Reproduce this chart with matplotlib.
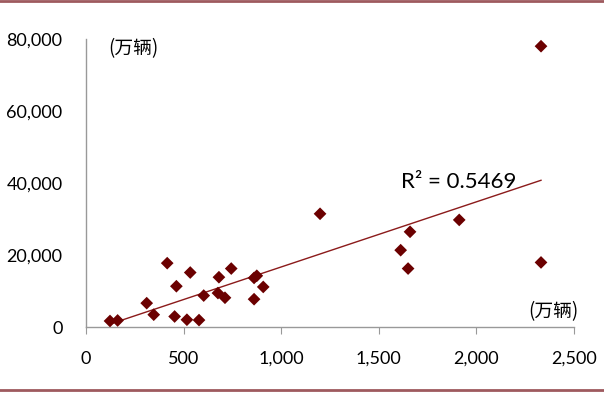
import numpy as np
import matplotlib
matplotlib.use("Agg")
import matplotlib.pyplot as plt
from matplotlib.ticker import FuncFormatter
from matplotlib.lines import Line2D

# Data (万辆)
x_vals = [123, 162, 311, 347, 416, 463, 454, 534, 517, 579, 603, 681, 676, 712,
          744, 861, 875, 861, 908, 1199, 1660, 1612, 1650, 1912, 2331, 2331]
y_vals = [1750, 1900, 6700, 3500, 17800, 11400, 3000, 15200, 2100, 2000, 8800,
          13900, 9500, 8200, 16300, 13700, 14300, 7800, 11200, 31500, 26500,
          21400, 16300, 29800, 18000, 78000]
x_ticks = [0, 500, 1000, 1500, 2000, 2500]
y_ticks = [0, 20000, 40000, 60000, 80000]
r2_label = "R² = 0.5469"
unit_label = "(万辆)"

plt.rcParams['font.family'] = ['Lato', 'DejaVu Sans']

fig = plt.figure(figsize=(6.04, 3.94), dpi=100)
ax = fig.add_axes([86/604, 1-327.3/394, (574-86)/604, (327.3-39)/394])

x = np.array(x_vals, dtype=float)
y = np.array(y_vals, dtype=float)
slope, intercept = np.polyfit(x, y, 1)
xl = np.array([x.min(), x.max()])
ax.plot(xl, slope*xl + intercept, color='#8B1A1A', lw=1.0, zorder=2)
ax.scatter(x, y, marker='D', s=42, color='#6B0000', edgecolor='none', zorder=3)

ax.set_xlim(0, 2500)
ax.set_ylim(0, 80000)
ax.set_xticks(x_ticks)
ax.set_yticks(y_ticks)
fmt = FuncFormatter(lambda v, p: f"{int(v):,}")
ax.xaxis.set_major_formatter(fmt)
ax.yaxis.set_major_formatter(fmt)
for s in ['top', 'right']:
    ax.spines[s].set_visible(False)
for s in ['left', 'bottom']:
    ax.spines[s].set_color('#999999')
    ax.spines[s].set_linewidth(1.0)
ax.tick_params(axis='x', direction='out', length=5, color='#999999', pad=12, labelsize=13)
ax.tick_params(axis='y', length=0, pad=17, labelsize=13)
ax.spines['left'].set_bounds(0, 80000)

cjk = ['Noto Sans CJK SC', 'DejaVu Sans']
ax.text(0.045, 0.965, unit_label, transform=ax.transAxes, fontsize=13.5,
        family=cjk, va='center', ha='left')
ax.text(1.01, 0.055, unit_label, transform=ax.transAxes, fontsize=13.5,
        family=cjk, va='center', ha='right')
ax.text(0.645, 0.505, r2_label, transform=ax.transAxes, fontsize=16,
        ha='left', va='center')

# decorative frame lines
fig.add_artist(Line2D([0, 1], [1-1/394, 1-1/394], transform=fig.transFigure,
                      color='#9E5A5E', lw=2))
fig.add_artist(Line2D([0, 1], [1-390/394, 1-390/394], transform=fig.transFigure,
                      color='#9E5A5E', lw=2))

fig.savefig("out.png", dpi=100)
